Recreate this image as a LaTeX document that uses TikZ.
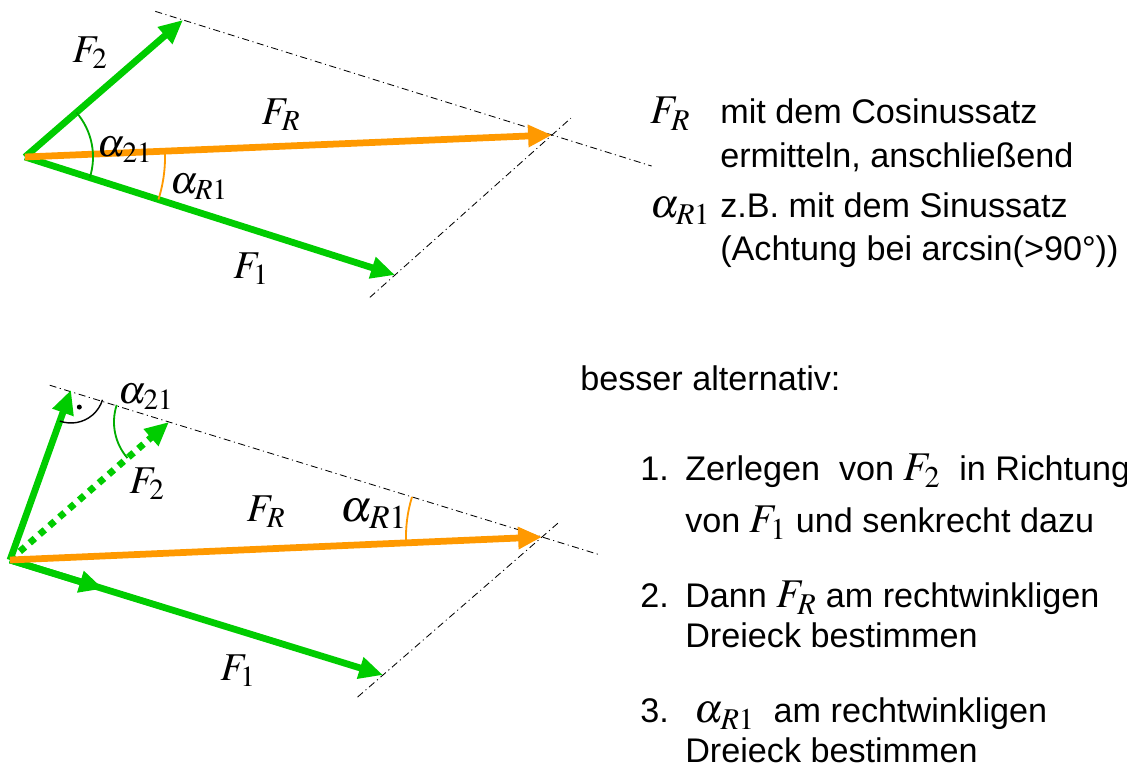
\documentclass[tikz,border=0pt]{standalone}
\usepackage{amsmath}
\usepackage{mathptmx}
\usepackage[no-math]{fontspec}
\setmainfont{Liberation Sans}
\usetikzlibrary{arrows.meta,calc,angles}
\definecolor{fgreen}{RGB}{0,204,0}
\definecolor{forange}{RGB}{255,153,0}
\newcommand{\tm}[1]{{\fontsize{29}{30}\selectfont$#1$}}

\begin{document}
\begin{tikzpicture}[x=0.025cm,y=0.025cm,>={Triangle[length=17pt,width=15pt]},
  vec/.style={draw=fgreen,line width=4.8pt,->},
  res/.style={draw=forange,line width=4.8pt,->},
  aux/.style={draw=black,line width=0.6pt,dash pattern=on 5pt off 2.5pt on 0.8pt off 2.5pt},
  arcg/.style={draw=fgreen!85!black,line width=1.3pt},
  arco/.style={draw=forange,line width=1.3pt},
  lbl/.style={font=\fontsize{28}{30}\selectfont,inner sep=0pt},
  txt/.style={font=\fontsize{24.3}{28}\selectfont,anchor=base west,inner sep=0pt}]
\useasboundingbox (0,0) rectangle (1127,769);

% upper picture
\coordinate (O) at (25,612); \coordinate (T1) at (395,494);
\coordinate (T2) at (183,749); \coordinate (TR) at (552,634);
\coordinate (a1) at ($(T2)!-0.075!(TR)$); \coordinate (a2) at ($(T2)!1.27!(TR)$);
\coordinate (b1) at ($(T1)!-0.16!(TR)$); \coordinate (b2) at ($(T1)!1.12!(TR)$);
\draw[aux](a1)--(a2); \draw[aux](b1)--(b2);
\draw[vec](O)--(T1); \draw[vec](O)--(T2); \draw[res](O)--(TR);
\pic[arcg,angle radius=1.7cm]{angle=T1--O--T2};
\pic[arco,angle radius=3.5cm]{angle=T1--O--TR};
\node[lbl](lF2) at (90,716){$F_2$};
\node[lbl](lFR) at (281,654){$F_R$};
\node[lbl](la21) at (125,619){$\alpha_{21}$};
\node[lbl](laR1) at (199,582){$\alpha_{R1}$};
\node[lbl](lF1) at (251,500){$F_1$};

% lower picture
\coordinate (O2) at (10,209); \coordinate (U1) at (383,94);
\coordinate (S) at (169,347); \coordinate (UR) at (542,232);
\coordinate (P) at (71,379); \coordinate (Q) at ($(O2)!0.25!(U1)$);
\coordinate (c1) at ($(S)!-0.32!(UR)$); \coordinate (c2) at ($(S)!1.15!(UR)$);
\coordinate (d1) at ($(U1)!-0.16!(UR)$); \coordinate (d2) at ($(U1)!1.11!(UR)$);
\draw[aux](c1)--(c2); \draw[aux](d1)--(d2);
\draw[vec](O2)--(U1); \draw[vec](O2)--(Q); \draw[vec](O2)--(P);
\draw[vec,dash pattern=on 4.8pt off 4.5pt](O2)--(S);
\draw[res](O2)--(UR);
\pic[draw,line width=1pt,angle radius=0.825cm]{angle=O2--P--UR};
\fill (P) ++(296:19) circle (2.5);
\pic[arcg,angle radius=1.375cm]{angle=P--S--O2};
\pic[arco,angle radius=3.4cm]{angle=S--UR--O2};
\node[lbl](ma21) at (146,372){$\alpha_{21}$};
\node[lbl](mF2) at (147,285){$F_2$};
\node[lbl](mFR) at (266,257){$F_R$};
\node[lbl,font=\fontsize{32}{34}\selectfont](maR1) at (374,255){$\alpha_{R1}$};
\node[lbl](mF1) at (238,98){$F_1$};

% text
\node[txt](tFR) at (650,645){\tm{F_R}};
\node[txt](tCos) at (720,645){mit dem Cosinussatz};
\node[txt](tErm) at (720,601){ermitteln, anschließend};
\node[txt](taR1) at (650,551){\tm{\alpha_{R1}}};
\node[txt](tSin) at (720,551){z.B. mit dem Sinussatz};
\node[txt](tAcht) at (720,508){(Achtung bei arcsin(>90°))};
\node[txt](tBes) at (580,378){besser alternativ:};
\node[txt](tN1) at (640,288){1.};
\node[txt](tZer) at (685,288){Zerlegen\ \ von \tm{F_2}\ \ in Richtung};
\node[txt](tVon) at (685,236){von \tm{F_1} und senkrecht dazu};
\node[txt](tN2) at (640,161){2.};
\node[txt](tDann) at (685,161){Dann \tm{F_R} am rechtwinkligen};
\node[txt](tDr1) at (685,121){Dreieck bestimmen};
\node[txt](tN3) at (640,46){3.};
\node[txt](tAlp) at (685,46){\ \tm{\alpha_{R1}}\ \ am rechtwinkligen};
\node[txt](tDr2) at (685,6){Dreieck bestimmen};
\end{tikzpicture}
\end{document}
